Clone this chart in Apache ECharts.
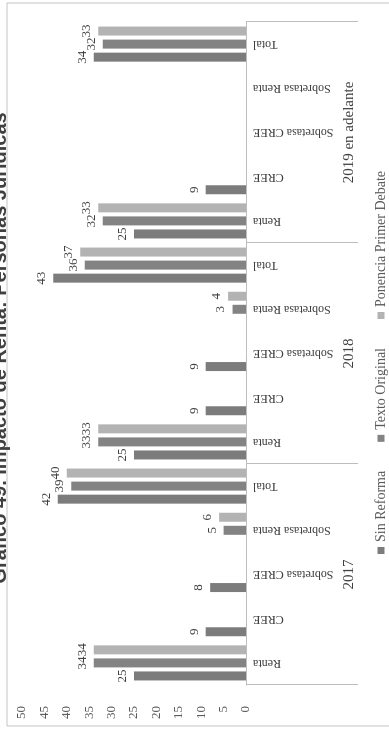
<!DOCTYPE html>
<html>
<head>
<meta charset="utf-8">
<script src="https://cdn.jsdelivr.net/npm/echarts@6/dist/echarts.min.js"></script>
<style>
html,body{margin:0;padding:0;width:389px;height:730px;overflow:hidden;background:#fff;}
#chart{position:absolute;left:0;top:0;width:730px;height:389px;transform-origin:0 0;transform:translateY(730px) rotate(-90deg);}
</style>
</head>
<body>
<div id="chart"></div>
<script>
const title = 'Gráfico 49. Impacto de Renta: Personas Jurídicas';
const categories = ['Renta','CREE','Sobretasa CREE','Sobretasa Renta','Total',
                    'Renta','CREE','Sobretasa CREE','Sobretasa Renta','Total',
                    'Renta','CREE','Sobretasa CREE','Sobretasa Renta','Total'];
const groups = ['2017','2018','2019 en adelante'];
const seriesNames = ['Sin Reforma','Texto Original','Ponencia Primer Debate'];
const sinReforma    = [25, 9, 8, null, 42,  25, 9, 9, null, 43,  25, 9, null, null, 34];
const textoOriginal = [34, null, null, 5, 39,  33, null, null, 3, 36,  32, null, null, null, 32];
const ponencia      = [34, null, null, 6, 40,  33, null, null, 4, 37,  33, null, null, null, 33];
const colors = ['#7c7c7c','#838383','#b3b3b3'];

const chart = echarts.init(document.getElementById('chart'));
const serif = 'Liberation Serif';
function mk(name, data, color){
  return {
    name: name, type: 'bar', data: data, barWidth: 9, barGap: '45%',
    itemStyle: {color: color},
    label: {show: true, position: 'top', distance: 5, fontFamily: serif, fontSize: 13, color: '#404040'}
  };
}
chart.setOption({
  animation: false,
  grid: {left: 45, right: 22, top: 22, bottom: 143},
  legend: {
    data: seriesNames, left: 171, top: 369, orient: 'horizontal',
    itemWidth: 7, itemHeight: 7, itemGap: 29, icon: 'rect',
    textStyle: {fontFamily: serif, fontSize: 14, color: '#595959'}
  },
  xAxis: [
    {type: 'category', data: categories, position: 'bottom', offset: 0,
     axisLine: {show: true, lineStyle: {color: '#bdbdbd'}},
     axisTick: {show: false},
     axisLabel: {interval: 0, rotate: 90, margin: 7, fontFamily: serif, fontSize: 12, color: '#404040'}},
    {type: 'category', data: groups, position: 'bottom', offset: 0,
     axisLine: {show: false},
     axisTick: {show: true, length: 112, interval: 0, alignWithLabel: false, lineStyle: {color: '#bdbdbd'}},
     axisLabel: {interval: 0, margin: 96, fontFamily: serif, fontSize: 15, color: '#404040'}}
  ],
  yAxis: {type: 'value', min: 0, max: 50, interval: 5,
    axisLine: {show: false}, axisTick: {show: false}, splitLine: {show: false},
    axisLabel: {margin: 21, fontFamily: serif, fontSize: 13, color: '#595959'}},
  series: [mk(seriesNames[0], sinReforma, colors[0]), mk(seriesNames[1], textoOriginal, colors[1]), mk(seriesNames[2], ponencia, colors[2])],
  graphic: [
    {type: 'rect', shape: {x: 4, y: 7, width: 723, height: 420}, style: {fill: 'none', stroke: '#c4c4c4', lineWidth: 1}, silent: true},
    {type: 'text', x: 382, y: -10, style: {text: title, textAlign: 'center', textVerticalAlign: 'top', font: 'bold 20px "Liberation Sans"', fill: '#404040'}, silent: true}
  ]
});
</script>
</body>
</html>
